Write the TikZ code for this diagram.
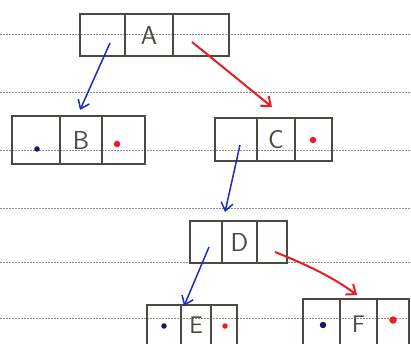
\documentclass[tikz,border=0pt]{standalone}
\usetikzlibrary{arrows.meta}
\definecolor{ink}{RGB}{74,74,64}
\definecolor{pblue}{RGB}{30,45,185}
\definecolor{pred}{RGB}{232,28,36}
\definecolor{dotblue}{RGB}{20,25,90}
\definecolor{rule}{RGB}{140,140,140}
\begin{document}
\begin{tikzpicture}[x=1pt,y=-1pt,
  cell/.style={draw=ink,line width=1.3pt,inner sep=0pt,text=ink,
    font=\sffamily\fontsize{26}{28}\selectfont},
  lbl/.style={text=ink,font=\sffamily\fontsize{24}{26}\selectfont},
  ruled/.style={draw=rule,line width=0.6pt,dash pattern=on 2pt off 1pt},
  barrow/.style={draw=pblue,line width=1.5pt,-{Straight Barb[length=8pt,width=12pt]}},
  rarrow/.style={draw=pred,line width=2pt,-{Straight Barb[length=8pt,width=13pt]}},
  bdot/.style={circle,fill=dotblue,inner sep=0pt,minimum size=5.5pt},
  rdot/.style={circle,fill=pred,inner sep=0pt,minimum size=6.5pt}]
\useasboundingbox (0,0) rectangle (411,344);
\clip (0,0) rectangle (411,344);
% ruled paper lines
\foreach \yy in {34,92,150,208,262,318}
  \draw[ruled] (0,\yy) -- (411,\yy);
% A
\node[cell,minimum width=45pt,minimum height=42pt] (Al) at (102.5,35) {};
\node[cell,minimum width=48pt,minimum height=42pt] (Am) at (149,35) {A};
\node[cell,minimum width=56pt,minimum height=42pt] (Ar) at (201,35) {};
% B
\node[cell,minimum width=48pt,minimum height=48pt] (Bl) at (36,140) {};
\node[cell,minimum width=42pt,minimum height=48pt] (Bm) at (81,140) {B};
\node[cell,minimum width=43pt,minimum height=48pt] (Br) at (123.5,140) {};
% C
\node[cell,minimum width=42pt,minimum height=43pt] (Cl) at (236,139.5) {};
\node[cell,minimum width=38pt,minimum height=43pt] (Cm) at (276,139.5) {C};
\node[cell,minimum width=37pt,minimum height=43pt] (Cr) at (313.5,139.5) {};
% D
\node[cell,minimum width=32pt,minimum height=42pt] (Dl) at (206,242) {};
\node[cell,minimum width=35pt,minimum height=42pt] (Dm) at (239.5,242) {D};
\node[cell,minimum width=30pt,minimum height=42pt] (Dr) at (272,242) {};
% E
\node[cell,minimum width=34pt,minimum height=50pt] (El) at (164,330) {};
\node[cell,minimum width=30pt,minimum height=50pt] (Em) at (196,330) {};
\node[cell,minimum width=26pt,minimum height=50pt] (Er) at (224,330) {};
\node[lbl] (Et) at (196,325) {E};
% F
\node[cell,minimum width=37pt,minimum height=56pt] (Fl) at (321.5,327) {};
\node[cell,minimum width=37pt,minimum height=56pt] (Fm) at (358.5,327) {};
\node[cell,minimum width=32pt,minimum height=56pt] (Fr) at (393,327) {};
\node[lbl] (Ft) at (358.5,324) {F};
% dots
\node[bdot] (bB) at (37,149) {};
\node[rdot] (rB) at (117,144) {};
\node[rdot] (rC) at (313,140) {};
\node[bdot] (bE) at (164,326) {};
\node[rdot,minimum size=5.5pt] (rE) at (225,326) {};
\node[bdot,minimum size=6.5pt] (bF) at (323,325) {};
\node[rdot,minimum size=7.5pt] (rF) at (393,320) {};
% connector ends
\coordinate (a1) at (110,43);
\coordinate (a2) at (192,42);
\coordinate (b0) at (80,110);
\coordinate (c0) at (272,107);
\coordinate (c1) at (240,145);
\coordinate (d0) at (225,212);
\coordinate (d1) at (209,247);
\coordinate (d2) at (275,252);
\coordinate (e0) at (184,306);
\coordinate (f0) at (357,295);
\draw[barrow] (a1) -- (b0);
\draw[rarrow] (a2) -- (c0);
\draw[barrow] (c1) -- (d0);
\draw[barrow] (d1) -- (e0);
\draw[rarrow] (d2) .. controls (300,262) and (330,275) .. (f0);
\end{tikzpicture}
\end{document}
